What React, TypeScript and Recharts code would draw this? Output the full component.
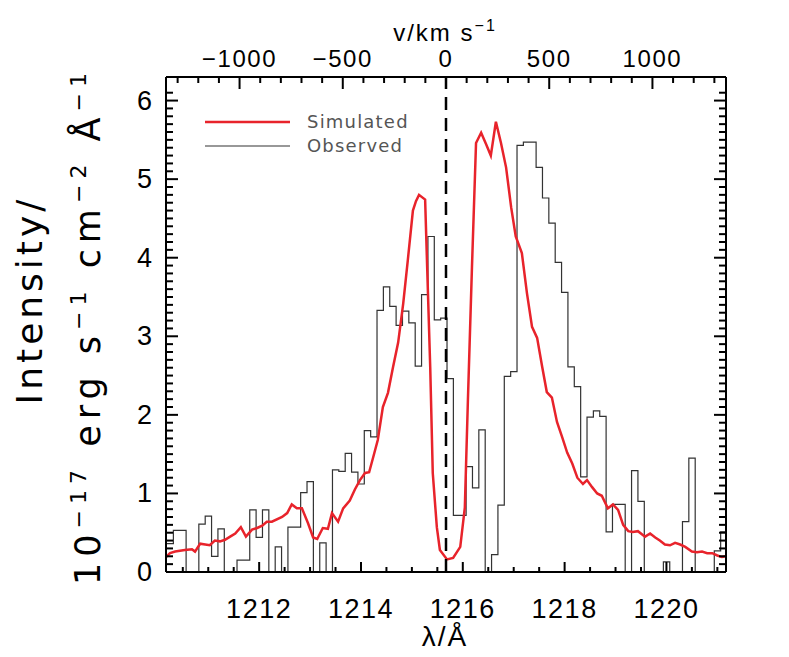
import React from 'react';
import { LineChart, Line, XAxis, YAxis, ReferenceLine } from 'recharts';

const LAMBDA0 = 1215.67;
const C_KMS = 299792.458;

// simulated profile (red)
const simLambda = [
  1210.17, 1210.25, 1210.35, 1210.54, 1210.68, 1210.74, 1210.84, 1210.94, 1211.03, 1211.13,
  1211.23, 1211.33, 1211.43, 1211.53, 1211.64, 1211.74, 1211.86, 1211.96, 1212.06, 1212.15,
  1212.25, 1212.45, 1212.55, 1212.64, 1212.74, 1212.84, 1212.96, 1213.06, 1213.14, 1213.25,
  1213.35, 1213.43, 1213.55, 1213.65, 1213.78, 1213.88, 1213.98, 1214.08, 1214.16, 1214.24,
  1214.33, 1214.43, 1214.53, 1214.63, 1214.73, 1214.83, 1214.92, 1215.02, 1215.08, 1215.14,
  1215.26, 1215.3, 1215.36, 1215.41, 1215.49, 1215.55, 1215.69, 1215.81, 1215.95, 1216.04,
  1216.1, 1216.18, 1216.26, 1216.36, 1216.46, 1216.55, 1216.65, 1216.75, 1216.85, 1216.95,
  1217.04, 1217.16, 1217.26, 1217.36, 1217.46, 1217.56, 1217.65, 1217.75, 1217.85, 1217.95,
  1218.05, 1218.15, 1218.25, 1218.36, 1218.44, 1218.54, 1218.64, 1218.73, 1218.85, 1218.95,
  1219.05, 1219.15, 1219.25, 1219.34, 1219.44, 1219.58, 1219.68, 1219.78, 1219.87, 1219.97,
  1220.07, 1220.17, 1220.27, 1220.37, 1220.5, 1220.6, 1220.7, 1220.8, 1220.9, 1221.0,
  1221.09, 1221.17,
];
const simIntensity = [
  0.19, 0.24, 0.26, 0.28, 0.29, 0.26, 0.36, 0.35, 0.34, 0.4,
  0.39, 0.41, 0.45, 0.49, 0.57, 0.45, 0.54, 0.56, 0.59, 0.64,
  0.64, 0.7, 0.75, 0.86, 0.81, 0.81, 0.62, 0.44, 0.42, 0.56,
  0.55, 0.75, 0.64, 0.81, 0.91, 1.05, 1.17, 1.26, 1.27, 1.46,
  1.68, 2.1, 2.28, 2.61, 2.92, 3.42, 3.97, 4.6, 4.72, 4.8,
  4.74, 3.88, 2.61, 1.26, 0.57, 0.28, 0.16, 0.18, 0.32, 0.82,
  2.18, 3.88, 5.46, 5.59, 5.44, 5.3, 5.73, 5.46, 5.15, 4.64,
  4.27, 4.06, 3.55, 3.12, 2.98, 2.61, 2.29, 2.22, 1.91, 1.72,
  1.52, 1.38, 1.2, 1.12, 1.17, 1.08, 1.0, 0.97, 0.81, 0.86,
  0.79, 0.6, 0.52, 0.51, 0.52, 0.45, 0.49, 0.44, 0.4, 0.35,
  0.34, 0.37, 0.35, 0.32, 0.26, 0.25, 0.26, 0.24, 0.24, 0.21,
  0.19, 0.2,
];

// observed spectrum (black histogram), regular wavelength bins
const obsStart = 1210.19;
const obsStep = 0.125;
const obsIntensity = [
  0.36, 0.53, 0.53, 0, 0, 0.61, 0.71, 0.2, 0.55, 0,
  0, 0.15, 0.15, 0.79, 0.44, 0.79, 0, 0.32, 0, 0.57,
  0.57, 1.01, 1.15, 0, 0.37, 0, 1.3, 1.28, 1.51, 1.27,
  1.12, 1.8, 1.72, 3.33, 3.63, 3.38, 3.14, 3.32, 3.17, 2.62,
  3.53, 4.27, 3.21, 3.23, 2.46, 0.72, 0.72, 1.34, 1.07, 1.81,
  0, 0.22, 0.85, 2.49, 2.55, 5.43, 5.47, 5.47, 5.15, 4.76,
  4.44, 3.94, 3.56, 2.61, 2.36, 1.21, 1.97, 2.05, 1.98, 0.51,
  0.86, 0.86, 0, 1.29, 0.9, 0, 0, 0, 0.13, 0,
  0, 0.64, 1.45, 0, 0, 0, 0.27, 0.51,
];

const lambdaTicks = [
  1210.5, 1211, 1211.5, 1212, 1212.5, 1213, 1213.5, 1214, 1214.5, 1215, 1215.5,
  1216, 1216.5, 1217, 1217.5, 1218, 1218.5, 1219, 1219.5, 1220, 1220.5, 1221,
];
const lambdaMajor = [1212, 1214, 1216, 1218, 1220];
const velocityTicks = [
  -1300, -1200, -1100, -1000, -900, -800, -700, -600, -500, -400, -300, -200, -100, 0,
  100, 200, 300, 400, 500, 600, 700, 800, 900, 1000, 1100, 1200, 1300,
];
const velocityMajor = [-1000, -500, 0, 500, 1000];
const yTicks = Array.from({ length: 63 }, (_, i) => i / 10);

const simData = simLambda.map((l, i) => ({ lambda: l, sim: simIntensity[i] }));
const obsData = obsIntensity.map((v, i) => ({ lambda: obsStart + i * obsStep, obs: v }));
obsData.push({ lambda: obsStart + obsIntensity.length * obsStep, obs: obsIntensity[obsIntensity.length - 1] });

const velocityLambda = velocityTicks.map((v) => LAMBDA0 * (1 + v / C_KMS));

const FONT = '"Liberation Sans", Arial, sans-serif';
const TITLE_FONT = '"DejaVu Sans", sans-serif';
const W = 781;
const H = 649;
const X_DOMAIN = [1210.17, 1221.17];
const Y_DOMAIN = [0, 6.3];

const BottomTick = (props: any) => {
  const { x, y, index } = props;
  const v = lambdaTicks[index];
  const major = lambdaMajor.includes(v);
  return (
    <g>
      <line x1={x} x2={x} y1={y} y2={y - (major ? 10 : 5)} stroke="#000" strokeWidth={2} />
      {major && (
        <text x={x} y={y + 46} textAnchor="middle" fontFamily={FONT} fontSize={27} letterSpacing={1.5} fill="#000">
          {v}
        </text>
      )}
    </g>
  );
};

const TopTick = (props: any) => {
  const { x, y, index } = props;
  const v = velocityTicks[index];
  const major = velocityMajor.includes(v);
  return (
    <g>
      <line x1={x} x2={x} y1={y} y2={y + (major ? 12 : 6)} stroke="#000" strokeWidth={2} />
      {major && (
        <text x={x} y={y - 10} textAnchor="middle" fontFamily={FONT} fontSize={24} letterSpacing={1.6} fill="#000">
          {v < 0 ? '\u2212' + Math.abs(v) : v}
        </text>
      )}
    </g>
  );
};

const LeftTick = (props: any) => {
  const { x, y, index } = props;
  const major = index % 10 === 0;
  if (index > 61) return <g />;
  return (
    <g>
      <line x1={x} x2={x + (major ? 12 : 7)} y1={y} y2={y} stroke="#000" strokeWidth={2} />
      {major && (
        <text x={x - 14} y={y + 9} textAnchor="end" fontFamily={FONT} fontSize={27} fill="#000">
          {index / 10}
        </text>
      )}
    </g>
  );
};

const RightTick = (props: any) => {
  const { x, y, index } = props;
  const major = index % 10 === 0;
  if (index > 61) return <g />;
  return <line x1={x} x2={x - (major ? 12 : 7)} y1={y} y2={y} stroke="#000" strokeWidth={2} />;
};

export default function App() {
  return (
    <div style={{ position: 'relative', width: W, height: H }}>
      <LineChart width={W} height={H} margin={{ top: 68, right: 62, bottom: 84, left: 157 }}>
        <XAxis
          xAxisId="b"
          type="number"
          dataKey="lambda"
          domain={X_DOMAIN}
          allowDataOverflow
          ticks={lambdaTicks}
          interval={0}
          height={1}
          tickSize={0}
          tickMargin={0}
          tickLine={false}
          tick={BottomTick}
          axisLine={{ stroke: '#000', strokeWidth: 2 }}
        />
        <XAxis
          xAxisId="t"
          orientation="top"
          type="number"
          dataKey="lambda"
          domain={X_DOMAIN}
          allowDataOverflow
          ticks={velocityLambda}
          interval={0}
          height={1}
          tickSize={0}
          tickMargin={0}
          tickLine={false}
          tick={TopTick}
          axisLine={{ stroke: '#000', strokeWidth: 2 }}
        />
        <YAxis
          yAxisId="l"
          type="number"
          domain={Y_DOMAIN}
          allowDataOverflow
          ticks={yTicks}
          interval={0}
          width={1}
          tickSize={0}
          tickMargin={0}
          tickLine={false}
          tick={LeftTick}
          axisLine={{ stroke: '#000', strokeWidth: 2 }}
        />
        <YAxis
          yAxisId="r"
          orientation="right"
          type="number"
          domain={Y_DOMAIN}
          allowDataOverflow
          ticks={yTicks}
          interval={0}
          width={1}
          tickSize={0}
          tickMargin={0}
          tickLine={false}
          tick={RightTick}
          axisLine={{ stroke: '#000', strokeWidth: 2 }}
        />
        <Line
          xAxisId="b"
          yAxisId="l"
          data={obsData}
          dataKey="obs"
          type="stepAfter"
          stroke="#333"
          strokeWidth={1.2}
          dot={false}
          activeDot={false}
          isAnimationActive={false}
        />
        <Line
          xAxisId="b"
          yAxisId="l"
          data={simData}
          dataKey="sim"
          type="linear"
          stroke="#e8232b"
          strokeWidth={2.5}
          dot={false}
          activeDot={false}
          isAnimationActive={false}
        />
        <ReferenceLine
          xAxisId="b"
          yAxisId="l"
          x={LAMBDA0}
          stroke="#000"
          strokeWidth={2.5}
          strokeDasharray="13 8"
        />
      </LineChart>
      <svg
        width={W}
        height={H}
        style={{ position: 'absolute', left: 0, top: 0, pointerEvents: 'none' }}
      >
        {/* legend */}
        <line x1={197} x2={282} y1={114} y2={114} stroke="#e8232b" strokeWidth={2.5} />
        <line x1={197} x2={282} y1={138} y2={138} stroke="#333" strokeWidth={1.2} />
        <text x={299} y={120} fontFamily={TITLE_FONT} fontSize={18} letterSpacing={1.2} fill="#555">
          Simulated
        </text>
        <text x={299} y={144} fontFamily={TITLE_FONT} fontSize={18} letterSpacing={1.2} fill="#555">
          Observed
        </text>
        {/* axis titles */}
        <text x={437} y={638} textAnchor="middle" fontFamily={FONT} fontSize={28} letterSpacing={2} fill="#000">
          λ/Å
        </text>
        <text x={437} y={33} textAnchor="middle" fontFamily={FONT} fontSize={24} letterSpacing={2} fill="#000">
          v/km s<tspan dy={-10} fontSize={16}>−1</tspan>
        </text>
        <text
          x={34}
          y={292}
          transform="rotate(-90 34 292)"
          textAnchor="middle"
          fontFamily={TITLE_FONT}
          fontSize={36}
          letterSpacing={4}
          fill="#000"
        >
          Intensity/
        </text>
        <text
          x={92}
          y={318}
          transform="rotate(-90 92 318)"
          textAnchor="middle"
          fontFamily={TITLE_FONT}
          fontSize={35}
          letterSpacing={6}
          fill="#000"
        >
          10<tspan dy={-14} fontSize={22}>−17</tspan>
          <tspan dy={14}> erg s</tspan>
          <tspan dy={-14} fontSize={22}>−1</tspan>
          <tspan dy={14}> cm</tspan>
          <tspan dy={-14} fontSize={22}>−2</tspan>
          <tspan dy={14}> Å</tspan>
          <tspan dy={-14} fontSize={22}>−1</tspan>
        </text>
      </svg>
    </div>
  );
}
